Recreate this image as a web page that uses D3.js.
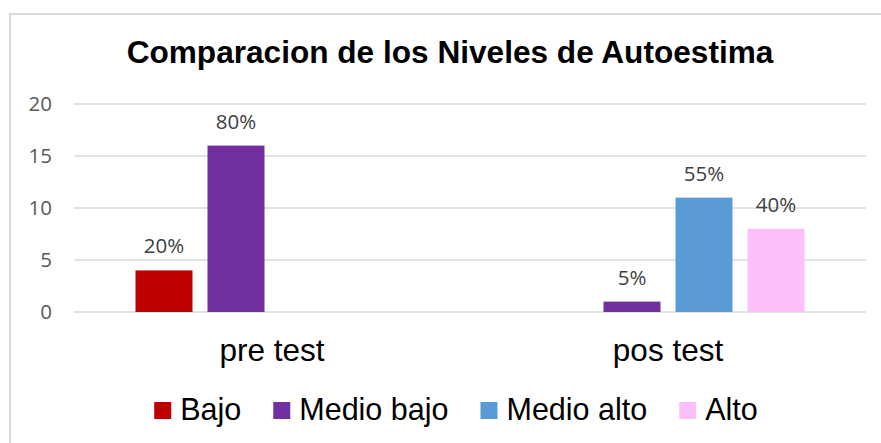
<!DOCTYPE html>
<html>
<head>
<meta charset="utf-8">
<script src="https://cdn.jsdelivr.net/npm/d3@7"></script>
<style>
  html, body { margin: 0; padding: 0; background: #fff; }
  svg { display: block; }
</style>
</head>
<body>
<svg id="chart" width="881" height="443"></svg>
<script>
// data
const categories = ["pre test", "pos test"];
const seriesNames = ["Bajo", "Medio bajo", "Medio alto", "Alto"];
const seriesColors = ["#C00000", "#7030A0", "#5B9BD5", "#FDBFF9"];
const bajo = [4, null];
const medioBajo = [16, 1];
const medioAlto = [null, 11];
const alto = [null, 8];
const totals = [20, 20];
const yTicks = [0, 5, 10, 15, 20];

const svg = d3.select("#chart");
const width = 881;
const height = 443;

const plot = { left: 74, right: 866, top: 104, bottom: 312 };

// chart frame (right and bottom edges fall outside the picture)
svg.append("rect")
    .attr("x", 10)
    .attr("y", 14)
    .attr("width", 900)
    .attr("height", 500)
    .attr("fill", "white")
    .attr("stroke", "#d9d9d9")
    .attr("stroke-width", 2);

const allSeries = [bajo, medioBajo, medioAlto, alto];
const rows = [];
categories.forEach((c, i) => {
    seriesNames.forEach((s, j) => {
        const v = allSeries[j][i];
        if (v != null) rows.push({ category: c, series: s, value: v, total: totals[i], color: seriesColors[j] });
    });
});

const x0 = d3.scaleBand()
    .domain(categories)
    .range([plot.left, plot.right]);

const x1 = d3.scaleBand()
    .domain(seriesNames)
    .range([0, x0.bandwidth()])
    .paddingInner(15 / 72)
    .paddingOuter(0.854);

const y = d3.scaleLinear()
    .domain([0, 20])
    .range([plot.bottom, plot.top]);

// gridlines
svg.append("g")
    .selectAll("line")
    .data(yTicks)
    .enter()
    .append("line")
    .attr("x1", plot.left)
    .attr("x2", plot.right)
    .attr("y1", d => y(d))
    .attr("y2", d => y(d))
    .attr("stroke", "#d9d9d9")
    .attr("stroke-width", 1.5);

// y axis labels
const yAxis = svg.append("g")
    .attr("transform", `translate(${plot.left - 22}, 0)`)
    .call(d3.axisLeft(y).tickValues(yTicks).tickSize(0).tickPadding(0));
yAxis.select(".domain").remove();
yAxis.selectAll("text")
    .style("font-family", "'Open Sans', sans-serif")
    .style("font-size", "20.5px")
    .attr("fill", "#595959");

// bars
svg.append("g")
    .selectAll("rect")
    .data(rows)
    .enter()
    .append("rect")
    .attr("x", d => x0(d.category) + x1(d.series))
    .attr("y", d => y(d.value))
    .attr("width", x1.bandwidth())
    .attr("height", d => y(0) - y(d.value))
    .attr("fill", d => d.color);

// data labels
const pct = d3.format(".0%");
svg.append("g")
    .selectAll("text")
    .data(rows)
    .enter()
    .append("text")
    .attr("x", d => x0(d.category) + x1(d.series) + x1.bandwidth() / 2)
    .attr("y", d => y(d.value) - 17)
    .attr("text-anchor", "middle")
    .style("font-family", "'Open Sans', sans-serif")
    .style("font-size", "20.5px")
    .attr("fill", "#404040")
    .text(d => pct(d.value / d.total));

// category axis
const xAxis = svg.append("g")
    .attr("transform", `translate(0, ${plot.bottom})`)
    .call(d3.axisBottom(x0).tickSize(0).tickPadding(0));
xAxis.select(".domain").remove();
xAxis.selectAll("text")
    .attr("dy", null)
    .attr("y", 49)
    .style("font-family", "'Liberation Sans', Arial, sans-serif")
    .style("font-size", "31.5px")
    .attr("fill", "#000");

// title
svg.append("text")
    .attr("x", 450)
    .attr("y", 63)
    .attr("text-anchor", "middle")
    .style("font-family", "'Liberation Sans', Arial, sans-serif")
    .style("font-size", "31.6px")
    .style("font-weight", "bold")
    .text("Comparacion de los Niveles de Autoestima");

// legend
const legend = svg.append("g");
const gap = 32;
let cursor = 0;
seriesNames.forEach((s, j) => {
    const item = legend.append("g").attr("transform", `translate(${cursor}, 0)`);
    item.append("rect")
        .attr("x", 0)
        .attr("y", 402)
        .attr("width", 17)
        .attr("height", 17)
        .attr("fill", seriesColors[j]);
    const t = item.append("text")
        .attr("x", 26)
        .attr("y", 420)
        .style("font-family", "'Liberation Sans', Arial, sans-serif")
        .style("font-size", "30.5px")
        .attr("fill", "#000")
        .text(s);
    cursor += 26 + t.node().getComputedTextLength() + gap;
});
const legendWidth = cursor - gap;
legend.attr("transform", `translate(${456 - legendWidth / 2}, 0)`);
</script>
</body>
</html>
